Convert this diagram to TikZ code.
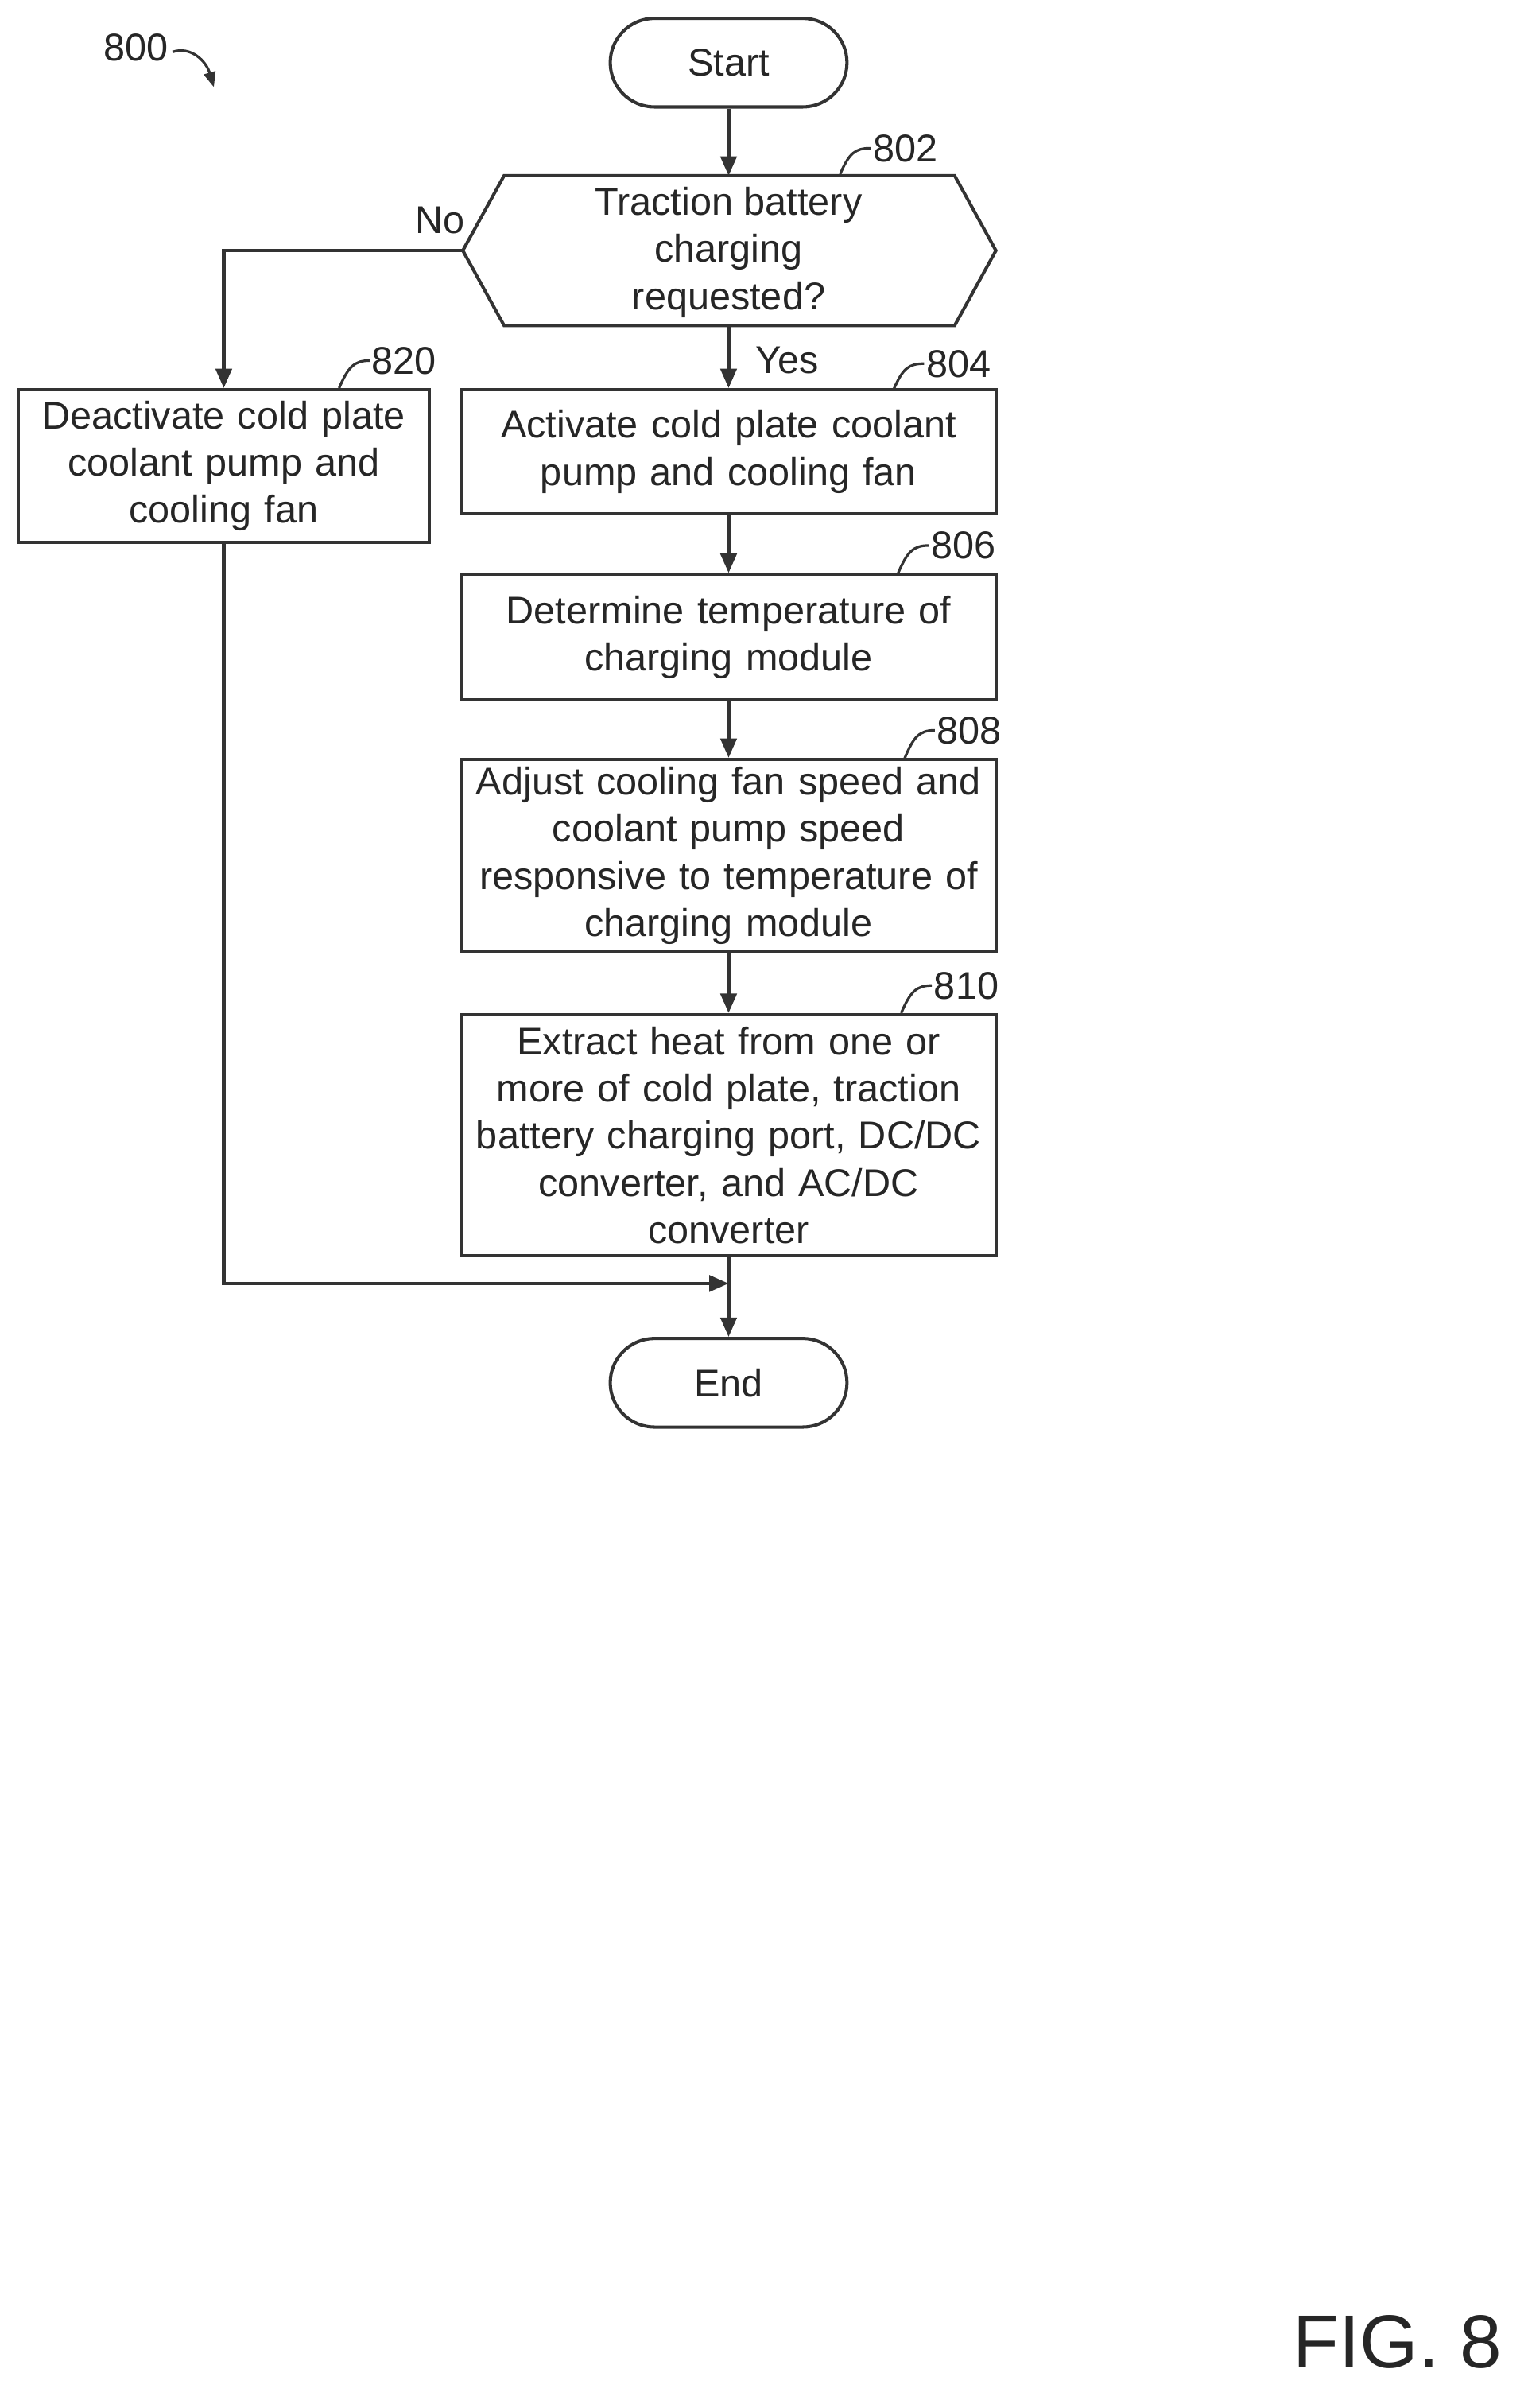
\documentclass[tikz,border=0pt]{standalone}
\usepackage{fontspec}
\setmainfont{Liberation Sans}
\usetikzlibrary{arrows.meta}
\begin{document}
\begin{tikzpicture}[x=0.05cm,y=-0.05cm,
  every node/.style={font=\fontsize{36}{44}\selectfont, text=black!85},
  line/.style={draw=black!80, line width=3pt},
  arr/.style={line, -{Triangle[length=18pt,width=15pt]}},
  box/.style={line, rectangle, minimum width=17.5cm, align=center, inner sep=2pt},
  term/.style={line, rounded corners=1.45cm, minimum width=7.75cm, minimum height=2.9cm},
  lbl/.style={anchor=west, inner sep=1pt},
  lead/.style={draw=black!80, line width=2.4pt}]
\useasboundingbox (0,0) rectangle (1000,1576);
\node[term] (start) at (477,41) {Start};
\coordinate (hL) at (303,164); \coordinate (hR) at (652,164);
\coordinate (hT) at (477,115); \coordinate (hB) at (477,213);
\draw[line] (hL) -- (330,115) -- (625,115) -- (hR) -- (625,213) -- (330,213) -- cycle;
\node[align=center] (dec) at (477,165) {Traction battery\\charging\\requested?};
\node[box, minimum height=4.05cm, text width=17.2cm] (b804) at (477,295.5) {Activate cold plate coolant\\pump and cooling fan};
\node[box, minimum height=4.1cm, text width=17.2cm] (b806) at (477,417) {Determine temperature of\\charging module};
\node[box, minimum height=6.3cm, text width=17.2cm] (b808) at (477,560) {Adjust cooling fan speed and\\coolant pump speed\\responsive to temperature of\\charging module};
\node[box, minimum height=7.9cm, text width=17.2cm] (b810) at (477,743) {Extract heat from one or\\more of cold plate, traction\\battery charging port, DC/DC\\converter, and AC/DC\\converter};
\node[box, minimum width=13.45cm, minimum height=5cm, text width=13.3cm] (b820) at (146.5,305) {Deactivate cold plate\\coolant pump and\\cooling fan};
\node[term] (end) at (477,905) {End};
\coordinate (j) at (477,840);
\draw[arr] (start) -- (hT);
\draw[arr] (hB) -- (b804);
\node[lbl] (yes) at (494,236) {Yes};
\draw[arr] (hL) -| (b820.north);
\node (no) at (288,144) {No};
\draw[arr] (b804) -- (b806);
\draw[arr] (b806) -- (b808);
\draw[arr] (b808) -- (b810);
\draw[arr] (b810) -- (end);
\draw[arr] (b820.south) |- (j);
% reference labels
\draw[lead] (550,114) .. controls (556,100) and (560,97) .. (570,97) node[lbl] {802};
\draw[lead] (585,255) .. controls (591,241) and (595,238) .. (605,238) node[lbl] {804};
\draw[lead] (588,375) .. controls (594,361) and (598,357) .. (608,357) node[lbl] {806};
\draw[lead] (592,497) .. controls (598,482) and (602,478) .. (612,478) node[lbl] {808};
\draw[lead] (590,663) .. controls (596,649) and (600,645) .. (610,645) node[lbl] {810};
\draw[lead] (222,254) .. controls (228,240) and (232,236) .. (242,236) node[lbl] {820};
\node (n800) at (89,31) {800};
\draw[lead, -{Triangle[length=14pt,width=11pt]}] (113,34) .. controls (125,30) and (135,40) .. (140,57);
\node[font=\fontsize{70}{74}\selectfont] (fig) at (915,1533) {FIG. 8};
\end{tikzpicture}
\end{document}
